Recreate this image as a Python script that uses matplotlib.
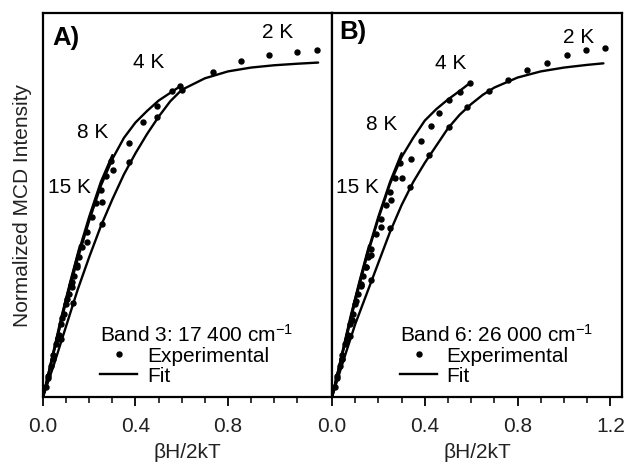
import matplotlib
matplotlib.use('Agg')
import matplotlib.pyplot as plt
from matplotlib.lines import Line2D

plt.rcParams['font.family'] = ['Liberation Sans', 'DejaVu Sans']
plt.rcParams['mathtext.fontset'] = 'custom'
plt.rcParams['mathtext.rm'] = 'Liberation Sans'
plt.rcParams['mathtext.it'] = 'Liberation Sans:italic'

# ---- Panel A: band 3 ----
a_fit2_x = [0, 0.05, 0.10, 0.15, 0.20, 0.25, 0.30, 0.35, 0.40, 0.45, 0.50, 0.55, 0.60, 0.70, 0.80, 0.90, 1.00, 1.10, 1.19]
a_fit2_y = [0, 0.09, 0.185, 0.28, 0.365, 0.445, 0.515, 0.58, 0.635, 0.685, 0.73, 0.77, 0.80, 0.83, 0.848, 0.858, 0.864, 0.868, 0.871]
a_fit4_x = [0, 0.05, 0.10, 0.15, 0.20, 0.25, 0.30, 0.35, 0.40, 0.45, 0.50, 0.55, 0.595]
a_fit4_y = [0, 0.125, 0.25, 0.36, 0.46, 0.55, 0.62, 0.675, 0.715, 0.745, 0.772, 0.792, 0.81]
a_fit8_x = [0, 0.05, 0.10, 0.15, 0.20, 0.25, 0.30]
a_fit8_y = [0, 0.128, 0.255, 0.37, 0.47, 0.56, 0.63]
a_fit15_x = [0, 0.04, 0.08, 0.12, 0.16]
a_fit15_y = [0, 0.105, 0.21, 0.305, 0.395]

a_exp2_x = [0.078, 0.13, 0.255, 0.372, 0.494, 0.60, 0.736, 0.857, 0.978, 1.10, 1.186]
a_exp2_y = [0.151, 0.244, 0.45, 0.613, 0.73, 0.80, 0.847, 0.875, 0.891, 0.899, 0.904]
a_exp4_x = [0.063, 0.126, 0.19, 0.255, 0.303, 0.372, 0.433, 0.494, 0.558, 0.593]
a_exp4_y = [0.15, 0.286, 0.405, 0.509, 0.592, 0.662, 0.717, 0.758, 0.797, 0.81]
a_exp8_x = [0.021, 0.042, 0.063, 0.084, 0.105, 0.126, 0.147, 0.168, 0.189, 0.210, 0.231, 0.252, 0.273, 0.294]
a_exp8_y = [0.05, 0.10, 0.155, 0.205, 0.255, 0.30, 0.345, 0.39, 0.43, 0.47, 0.505, 0.54, 0.575, 0.615]
a_exp15_x = [0.011, 0.022, 0.034, 0.045, 0.056, 0.067, 0.078, 0.090, 0.101, 0.112, 0.123, 0.134, 0.146, 0.157]
a_exp15_y = [0.027, 0.054, 0.082, 0.11, 0.137, 0.163, 0.19, 0.217, 0.243, 0.268, 0.292, 0.315, 0.34, 0.365]

# ---- Panel B: band 6 ----
b_fit2_x = [0, 0.05, 0.10, 0.15, 0.20, 0.25, 0.30, 0.35, 0.40, 0.45, 0.50, 0.55, 0.60, 0.65, 0.70, 0.80, 0.90, 1.00, 1.10, 1.17]
b_fit2_y = [0, 0.097, 0.19, 0.27, 0.35, 0.43, 0.50, 0.56, 0.61, 0.655, 0.70, 0.735, 0.763, 0.787, 0.806, 0.832, 0.848, 0.858, 0.865, 0.869]
b_fit4_x = [0, 0.05, 0.10, 0.15, 0.20, 0.25, 0.30, 0.35, 0.40, 0.45, 0.50, 0.55, 0.595]
b_fit4_y = [0, 0.125, 0.25, 0.365, 0.465, 0.555, 0.625, 0.675, 0.72, 0.75, 0.775, 0.797, 0.818]
b_fit8_x = [0, 0.05, 0.10, 0.15, 0.20, 0.25, 0.30]
b_fit8_y = [0, 0.128, 0.255, 0.37, 0.47, 0.56, 0.635]
b_fit15_x = [0, 0.04, 0.08, 0.12, 0.16]
b_fit15_y = [0, 0.105, 0.21, 0.305, 0.395]

b_exp2_x = [0.078, 0.169, 0.251, 0.338, 0.42, 0.506, 0.584, 0.675, 0.758, 0.84, 0.926, 1.013, 1.095, 1.177]
b_exp2_y = [0.158, 0.304, 0.439, 0.548, 0.631, 0.704, 0.756, 0.797, 0.826, 0.852, 0.87, 0.891, 0.904, 0.909]
b_exp4_x = [0.042, 0.085, 0.127, 0.17, 0.212, 0.255, 0.303, 0.342, 0.385, 0.428, 0.463, 0.506, 0.55, 0.593]
b_exp4_y = [0.10, 0.20, 0.29, 0.37, 0.444, 0.514, 0.571, 0.621, 0.668, 0.706, 0.74, 0.774, 0.795, 0.818]
b_exp8_x = [0.021, 0.042, 0.063, 0.084, 0.105, 0.126, 0.147, 0.168, 0.189, 0.210, 0.231, 0.252, 0.273, 0.294]
b_exp8_y = [0.05, 0.10, 0.152, 0.2, 0.25, 0.295, 0.34, 0.385, 0.425, 0.465, 0.50, 0.535, 0.57, 0.61]
b_exp15_x = [0.011, 0.022, 0.034, 0.045, 0.056, 0.067, 0.078, 0.090, 0.101, 0.112, 0.123, 0.134, 0.146, 0.157]
b_exp15_y = [0.027, 0.054, 0.082, 0.11, 0.137, 0.163, 0.19, 0.217, 0.243, 0.268, 0.292, 0.315, 0.34, 0.365]

temp_labels = ['2 K', '4 K', '8 K', '15 K']

FS = 15
LW = 1.7
MS = 3.6
fig = plt.figure(figsize=(6.28, 4.65), dpi=100)
axA = fig.add_axes([0.0685, 0.146, 0.4602, 0.826])
axB = fig.add_axes([0.5287, 0.146, 0.4617, 0.826])


def draw_panel(ax, fits, exps, letter, band, label_pos, leg_anchor, major):
    for fx, fy in fits:
        ax.plot(fx, fy, color='black', lw=LW, solid_capstyle='round')
    for ex, ey in exps:
        ax.plot(ex, ey, 'o', color='black', ms=MS, mec='black')
    ax.set_xlim(0, 1.25)
    ax.set_ylim(0, 1.0)
    ax.set_yticks([])
    ax.set_xticks(major)
    ax.set_xticks([v / 10 for v in range(1, 12) if v % 4 != 0], minor=True)
    ax.set_xticklabels(['%.1f' % v for v in major])
    ax.tick_params(axis='x', which='major', direction='out', length=6.5, width=1.3,
                   labelsize=FS, pad=8, color='black', labelcolor='#222222')
    ax.tick_params(axis='x', which='minor', direction='out', length=4, width=1.1, color='black')
    for s in ax.spines.values():
        s.set_linewidth(1.6)
    ax.set_xlabel('βH/2kT', fontsize=FS, labelpad=5, color='#222222')
    ax.text(label_pos[0][0], label_pos[0][1], letter, fontsize=18.5, fontweight='bold', va='center')
    for t, (lx, ly) in zip(temp_labels, label_pos[1:]):
        ax.text(lx, ly, t, fontsize=FS, va='center')
    h_dot = Line2D([], [], ls='none', marker='o', color='black', ms=MS)
    h_line = Line2D([], [], color='black', lw=LW)
    ax.legend([h_dot, h_line], ['Experimental', 'Fit'], title=band, loc='lower left',
              bbox_to_anchor=leg_anchor, frameon=False, fontsize=FS, title_fontsize=FS,
              alignment='left', handlelength=1.8, handletextpad=0.45, labelspacing=0.05,
              borderpad=0, borderaxespad=0)


draw_panel(axA,
           [(a_fit2_x, a_fit2_y), (a_fit4_x, a_fit4_y), (a_fit8_x, a_fit8_y), (a_fit15_x, a_fit15_y)],
           [(a_exp2_x, a_exp2_y), (a_exp4_x, a_exp4_y), (a_exp8_x, a_exp8_y), (a_exp15_x, a_exp15_y)],
           'A)', 'Band 3: 17 400 cm$^{-1}$',
           [(0.04, 0.935), (0.948, 0.948), (0.39, 0.870), (0.147, 0.688), (0.022, 0.545)],
           (0.197, 0.03), [0.0, 0.4, 0.8])
draw_panel(axB,
           [(b_fit2_x, b_fit2_y), (b_fit4_x, b_fit4_y), (b_fit8_x, b_fit8_y), (b_fit15_x, b_fit15_y)],
           [(b_exp2_x, b_exp2_y), (b_exp4_x, b_exp4_y), (b_exp8_x, b_exp8_y), (b_exp15_x, b_exp15_y)],
           'B)', 'Band 6: 26 000 cm$^{-1}$',
           [(0.03, 0.95), (0.996, 0.935), (0.446, 0.868), (0.147, 0.709), (0.017, 0.545)],
           (0.234, 0.03), [0.0, 0.4, 0.8, 1.2])

axA.set_ylabel('Normalized MCD Intensity', fontsize=FS, labelpad=8, color='#222222')

fig.savefig('out.png', dpi=100)
